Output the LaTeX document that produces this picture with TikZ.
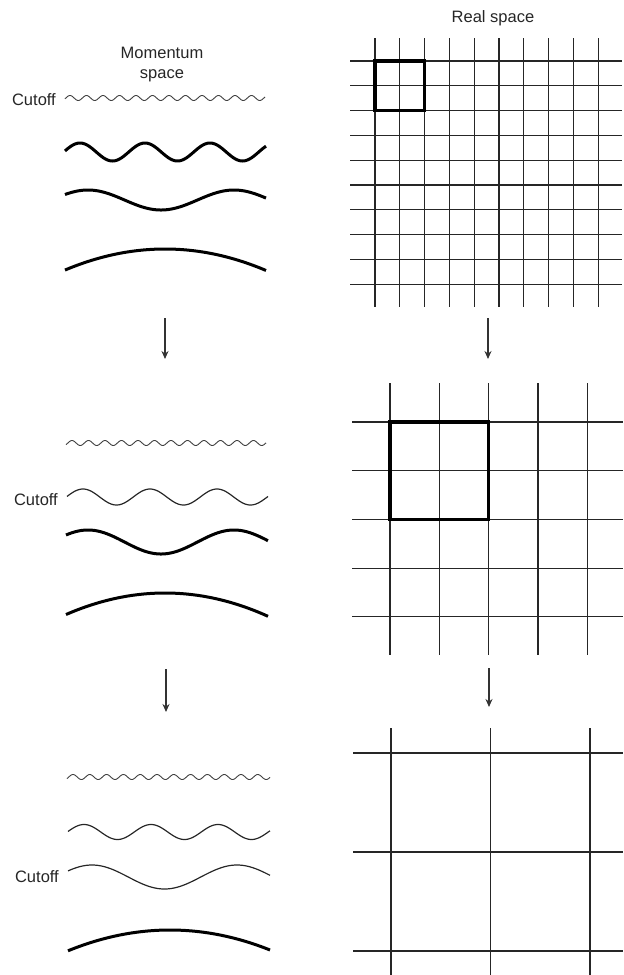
\documentclass[tikz,border=0pt]{standalone}
\usepackage{fontspec}
\setmainfont{Liberation Sans}
\usetikzlibrary{arrows.meta}
\begin{document}
\begin{tikzpicture}[x=1pt,y=-1pt,
  lbl/.style={font=\fontsize{16.5}{20}\selectfont, text=black!85, inner sep=0pt, align=center},
  finewave/.style={line width=0.9pt, black!75},
  thinwave/.style={line width=1.2pt, black!85},
  thickwave/.style={line width=3pt, black},
  gridline/.style={line width=1.2pt, black!85},
  boldsq/.style={line width=3.3pt, black},
  downarrow/.style={line width=1.2pt, black!80, -{Stealth[length=8pt,width=7pt]}}
]
\useasboundingbox (0,0) rectangle (624,975);

% ---- labels
\node[lbl] (mom) at (162,65) {Momentum\\space};
\node[lbl] (real) at (493,18) {Real space};
\node[lbl, anchor=east] (cut1) at (56,100) {Cutoff};
\node[lbl, anchor=east] (cut2) at (58,500) {Cutoff};
\node[lbl, anchor=east] (cut3) at (59,877) {Cutoff};

% ---- momentum space, top
\draw[finewave] plot[domain=65:265,samples=300] (\x,{98-2.5*cos((360/16.5)*(\x-70))});
\draw[thickwave] plot[domain=65:266,samples=200] (\x,{152-9*cos((360/65)*(\x-80))});
\draw[thickwave] plot[domain=65:266,samples=200] (\x,{200-10*cos((360/146)*(\x-88))});
\draw[thickwave] plot[domain=65:266,samples=100] (\x,{249+0.0021*(\x-165)*(\x-165)});

% ---- momentum space, middle
\draw[finewave] plot[domain=66:266,samples=300] (\x,{443-2.5*cos((360/16.5)*(\x-72))});
\draw[thinwave] plot[domain=67:268,samples=200] (\x,{497-8*cos((360/67)*(\x-83))});
\draw[thickwave] plot[domain=66:268,samples=200] (\x,{542-12*cos((360/146)*(\x-88))});
\draw[thickwave] plot[domain=66:268,samples=100] (\x,{593+0.0022*(\x-165)*(\x-165)});

% ---- momentum space, bottom
\draw[finewave] plot[domain=67:270,samples=300] (\x,{777-2.5*cos((360/16.8)*(\x-73))});
\draw[thinwave] plot[domain=68:270,samples=200] (\x,{832-7.5*cos((360/67)*(\x-84))});
\draw[thinwave] plot[domain=68:270,samples=200] (\x,{877-12*cos((360/145)*(\x-92))});
\draw[thickwave] plot[domain=68:270,samples=100] (\x,{930+0.002*(\x-170)*(\x-170)});

% ---- arrows
\coordinate (la1) at (165,318); \coordinate (lb1) at (165,359);
\coordinate (ra1) at (488,318); \coordinate (rb1) at (488,359);
\coordinate (la2) at (166,669); \coordinate (lb2) at (166,712);
\coordinate (ra2) at (489,668); \coordinate (rb2) at (489,707);
\draw[downarrow] (la1) -- (lb1);
\draw[downarrow] (ra1) -- (rb1);
\draw[downarrow] (la2) -- (lb2);
\draw[downarrow] (ra2) -- (rb2);

% ---- real space, top grid
\foreach \i in {0,...,9} {
  \draw[gridline] ({375+24.8*\i},38) -- ({375+24.8*\i},307);
  \draw[gridline] (350,{61+24.8*\i}) -- (622,{61+24.8*\i});
}
\draw[boldsq] (375,61) rectangle (424.6,110.6);

% ---- real space, middle grid
\foreach \i in {0,...,4} {
  \draw[gridline] ({390+49.3*\i},383) -- ({390+49.3*\i},655);
  \draw[gridline] (352,{422+48.7*\i}) -- (623,{422+48.7*\i});
}
\draw[boldsq] (390,422) rectangle (488.6,519.4);

% ---- real space, bottom grid
\foreach \i in {0,...,2} {
  \draw[gridline] ({391+99.5*\i},728) -- ({391+99.5*\i},975);
  \draw[gridline] (353,{753+99*\i}) -- (623,{753+99*\i});
}
\end{tikzpicture}
\end{document}
